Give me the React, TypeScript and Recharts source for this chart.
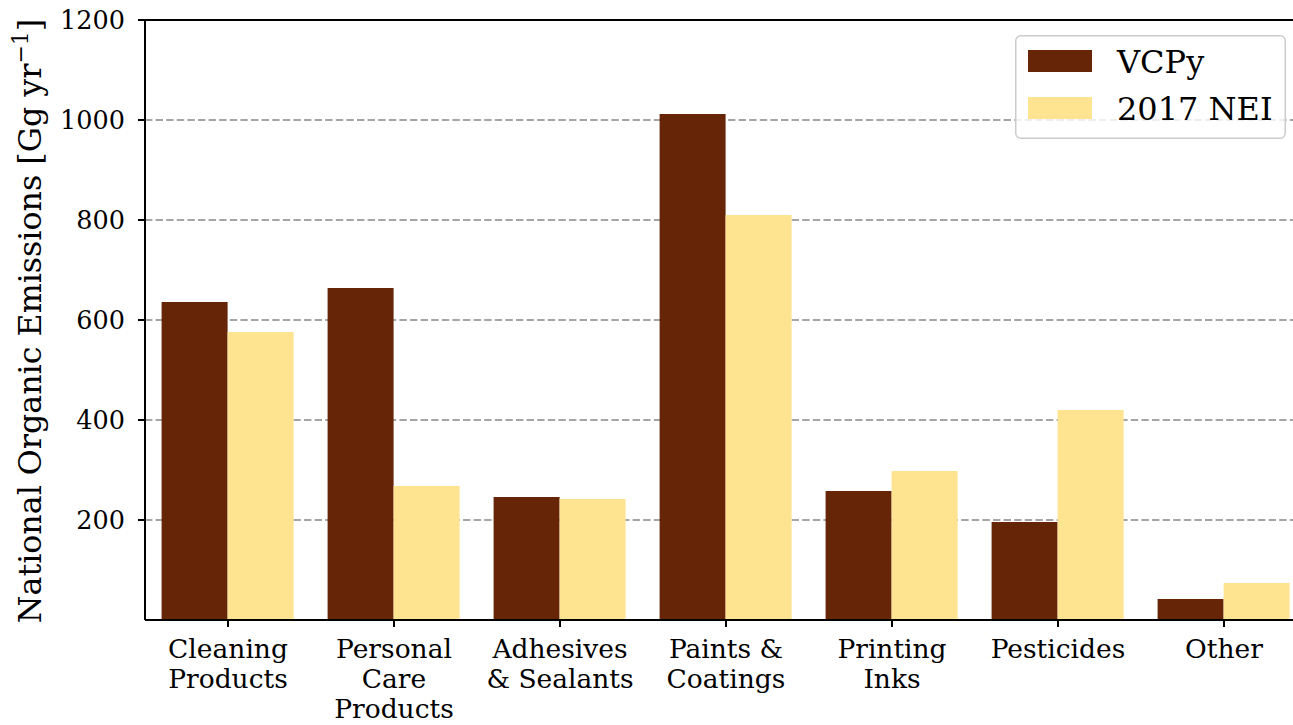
import React from "react"
import { BarChart, Bar, XAxis, YAxis, CartesianGrid, ReferenceLine, Legend, Label } from "recharts"

const categories = [
  "Cleaning\nProducts",
  "Personal\nCare\nProducts",
  "Adhesives\n& Sealants",
  "Paints &\nCoatings",
  "Printing\nInks",
  "Pesticides",
  "Other",
]
const vcpy = [636, 664, 246, 1012, 258, 196, 42]
const nei = [576, 268, 242, 810, 298, 420, 74]
const yTicks = [200, 400, 600, 800, 1000, 1200]
const seriesOrder = ["VCPy", "2017 NEI"]

const data = categories.map((category, i) => ({ category, vcpy: vcpy[i], nei: nei[i] }))

const FONT = "'DejaVu Serif', serif"

const CategoryTick = ({ x, y, payload }: any) => {
  const lines = String(payload.value).split("\n")
  return (
    <text x={x} y={y} textAnchor="middle" fontFamily={FONT} fontSize={26.5} fill="#000">
      {lines.map((line, i) => (
        <tspan key={i} x={x} dy={i === 0 ? 31 : 30}>
          {line}
        </tspan>
      ))}
    </text>
  )
}

const YLabel = () => (
  <text
    x={41}
    y={321}
    transform="rotate(-90, 41, 321)"
    textAnchor="middle"
    fontFamily={FONT}
    fontSize={31.7}
    fill="#000"
  >
    National Organic Emissions [Gg yr
    <tspan fontSize={22} dy={-13}>−1</tspan>
    <tspan dy={13}>]</tspan>
  </text>
)

const LegendBox = ({ payload }: any) => {
  const entries = [...(payload || [])].sort(
    (a: any, b: any) => seriesOrder.indexOf(a.value) - seriesOrder.indexOf(b.value)
  )
  return (
    <svg width={271} height={104} style={{ display: "block" }}>
      <rect x={0.75} y={0.75} width={269.5} height={102.5} rx={5} fill="#fff" fillOpacity={0.8} stroke="#cccccc" strokeWidth={1.5} />
      {entries.map((entry: any, i: number) => (
        <g key={entry.value}>
          <rect x={13} y={15 + i * 47} width={64} height={22} fill={entry.color} />
          <text x={102} y={38 + i * 46.5} fontFamily={FONT} fontSize={32} fill="#000">
            {entry.value}
          </text>
        </g>
      ))}
    </svg>
  )
}

export default function App() {
  return (
    <div style={{ position: "absolute", left: 0, top: 0, width: 1293, height: 725, overflow: "hidden", background: "#fff" }}>
      <BarChart
        width={1330}
        height={725}
        data={data}
        margin={{ top: 20, right: 23, bottom: 0, left: 0 }}
        barCategoryGap="10%"
        barGap={0}
      >
        <CartesianGrid vertical={false} stroke="#888" strokeWidth={1.5} strokeDasharray="7.4 3.2" />
        <XAxis
          dataKey="category"
          interval={0}
          height={105}
          tickSize={7}
          tickMargin={0}
          tick={<CategoryTick />}
          axisLine={{ stroke: "#000", strokeWidth: 2 }}
          tickLine={{ stroke: "#000", strokeWidth: 2 }}
        />
        <YAxis
          width={145}
          domain={[0, 1200]}
          ticks={yTicks}
          tickSize={7}
          tickMargin={13}
          tick={{ fontSize: 25.5, fill: "#000", fontFamily: FONT }}
          axisLine={{ stroke: "#000", strokeWidth: 2 }}
          tickLine={{ stroke: "#000", strokeWidth: 2 }}
        >
          <Label content={<YLabel />} />
        </YAxis>
        <ReferenceLine y={1200} stroke="#000" strokeWidth={2} />
        <Legend
          layout="horizontal"
          align="center"
          verticalAlign="middle"
          content={<LegendBox />}
          wrapperStyle={{ position: "absolute", left: 1015, top: 35, width: 271, height: 104 }}
        />
        <Bar dataKey="vcpy" name="VCPy" fill="#662506" isAnimationActive={false} />
        <Bar dataKey="nei" name="2017 NEI" fill="#FEE391" isAnimationActive={false} />
      </BarChart>
    </div>
  )
}
